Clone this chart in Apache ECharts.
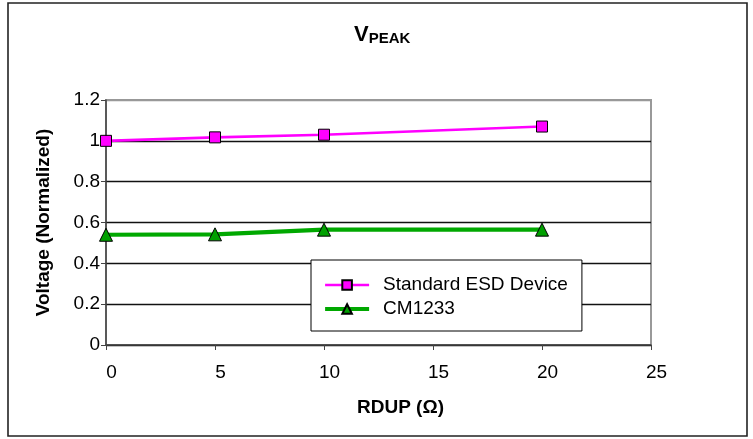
<!DOCTYPE html>
<html>
<head>
<meta charset="utf-8">
<script src="https://cdn.jsdelivr.net/npm/echarts@6/dist/echarts.min.js"></script>
<style>
html,body{margin:0;padding:0;background:#fff;}
#c{width:753px;height:439px;}
</style>
</head>
<body>
<div id="c"></div>
<script>
var xValues = [0, 5, 10, 20];
var standardEsd = [1.0, 1.017, 1.03, 1.07];
var cm1233 = [0.54, 0.542, 0.565, 0.565];
var seriesNames = ['Standard ESD Device', 'CM1233'];
var xTickLabels = ['0', '5', '10', '15', '20', '25'];
var yTickLabels = ['0', '0.2', '0.4', '0.6', '0.8', '1', '1.2'];

function pairs(xs, ys) {
  return xs.map(function (x, i) { return [x, ys[i]]; });
}

var FONT = "'Liberation Sans', Arial, sans-serif";
var chart = echarts.init(document.getElementById('c'), null, {renderer: 'canvas'});
chart.setOption({
  animation: false,
  backgroundColor: '#fff',
  textStyle: {fontFamily: FONT},
  title: {
    text: '{v|V}{s|PEAK}',
    left: 354,
    top: 24,
    padding: 0,
    textStyle: {
      rich: {
        v: {fontFamily: FONT, fontSize: 22, fontWeight: 'bold', color: '#000', lineHeight: 22, verticalAlign: 'bottom'},
        s: {fontFamily: FONT, fontSize: 15, fontWeight: 'bold', color: '#000', lineHeight: 13, verticalAlign: 'bottom'}
      }
    }
  },
  graphic: [{
    type: 'rect',
    shape: {x: 8, y: 3, width: 739, height: 433},
    style: {fill: null, stroke: '#222', lineWidth: 1.6},
    silent: true,
    z: -1
  }],
  grid: {
    left: 106, right: 102, top: 100, bottom: 94,
    show: true, borderColor: '#999', borderWidth: 2, backgroundColor: '#fff'
  },
  legend: {
    orient: 'vertical',
    left: 311, top: 260,
    padding: [15, 14, 12, 12],
    itemGap: 4,
    itemWidth: 44,
    itemHeight: 12,
    backgroundColor: '#fff',
    borderColor: '#000',
    borderWidth: 1,
    textStyle: {fontFamily: FONT, fontSize: 19, color: '#000', lineHeight: 20, padding: [0, 0, 0, 9]},
    data: [
      {name: seriesNames[0], lineStyle: {width: 2.6}},
      {name: seriesNames[1], lineStyle: {width: 4.2}}
    ],
    z: 10
  },
  xAxis: {
    type: 'value',
    min: 0, max: 25, interval: 5,
    name: 'RDUP (\u03A9)',
    nameLocation: 'middle',
    nameGap: 53,
    nameTextStyle: {fontFamily: FONT, fontSize: 19, fontWeight: 'bold', color: '#000', padding: [0, 0, 0, 44], verticalAlign: 'top'},
    axisLine: {show: true, onZero: false, lineStyle: {color: '#444', width: 1.5}},
    axisTick: {show: true, length: 5, inside: false, lineStyle: {color: '#444', width: 1}},
    axisLabel: {
      fontFamily: FONT, fontSize: 19, color: '#000', margin: 18, padding: [0, 0, 0, 11],
      formatter: function (v) { return xTickLabels[Math.round(v / 5)]; }
    },
    splitLine: {show: false}
  },
  yAxis: {
    type: 'value',
    min: 0, max: 1.2, interval: 0.2,
    name: 'Voltage (Normalized)',
    nameLocation: 'middle',
    nameGap: 53,
    nameTextStyle: {fontFamily: FONT, fontSize: 19, fontWeight: 'bold', color: '#000'},
    axisLine: {show: true, lineStyle: {color: '#444', width: 1.5}},
    axisTick: {show: true, length: 5, lineStyle: {color: '#444', width: 1}},
    axisLabel: {
      fontFamily: FONT, fontSize: 19, color: '#000', margin: 6,
      formatter: function (v) { return yTickLabels[Math.round(v / 0.2)]; }
    },
    splitLine: {show: true, lineStyle: {color: ['#111', '#111', '#111', '#111', '#111', '#111', '#999'], width: 1.3}}
  },
  series: [{
    name: seriesNames[0],
    type: 'line',
    data: pairs(xValues, standardEsd),
    symbol: 'rect',
    symbolSize: 11,
    lineStyle: {color: '#FF00FF', width: 2.6},
    itemStyle: {color: '#FF00FF', borderColor: '#000', borderWidth: 1},
    z: 3
  }, {
    name: seriesNames[1],
    type: 'line',
    data: pairs(xValues, cm1233),
    symbol: 'triangle',
    symbolSize: 13,
    lineStyle: {color: '#00A800', width: 4.2},
    itemStyle: {color: '#00A000', borderColor: '#000', borderWidth: 1},
    z: 3
  }]
});
</script>
</body>
</html>
